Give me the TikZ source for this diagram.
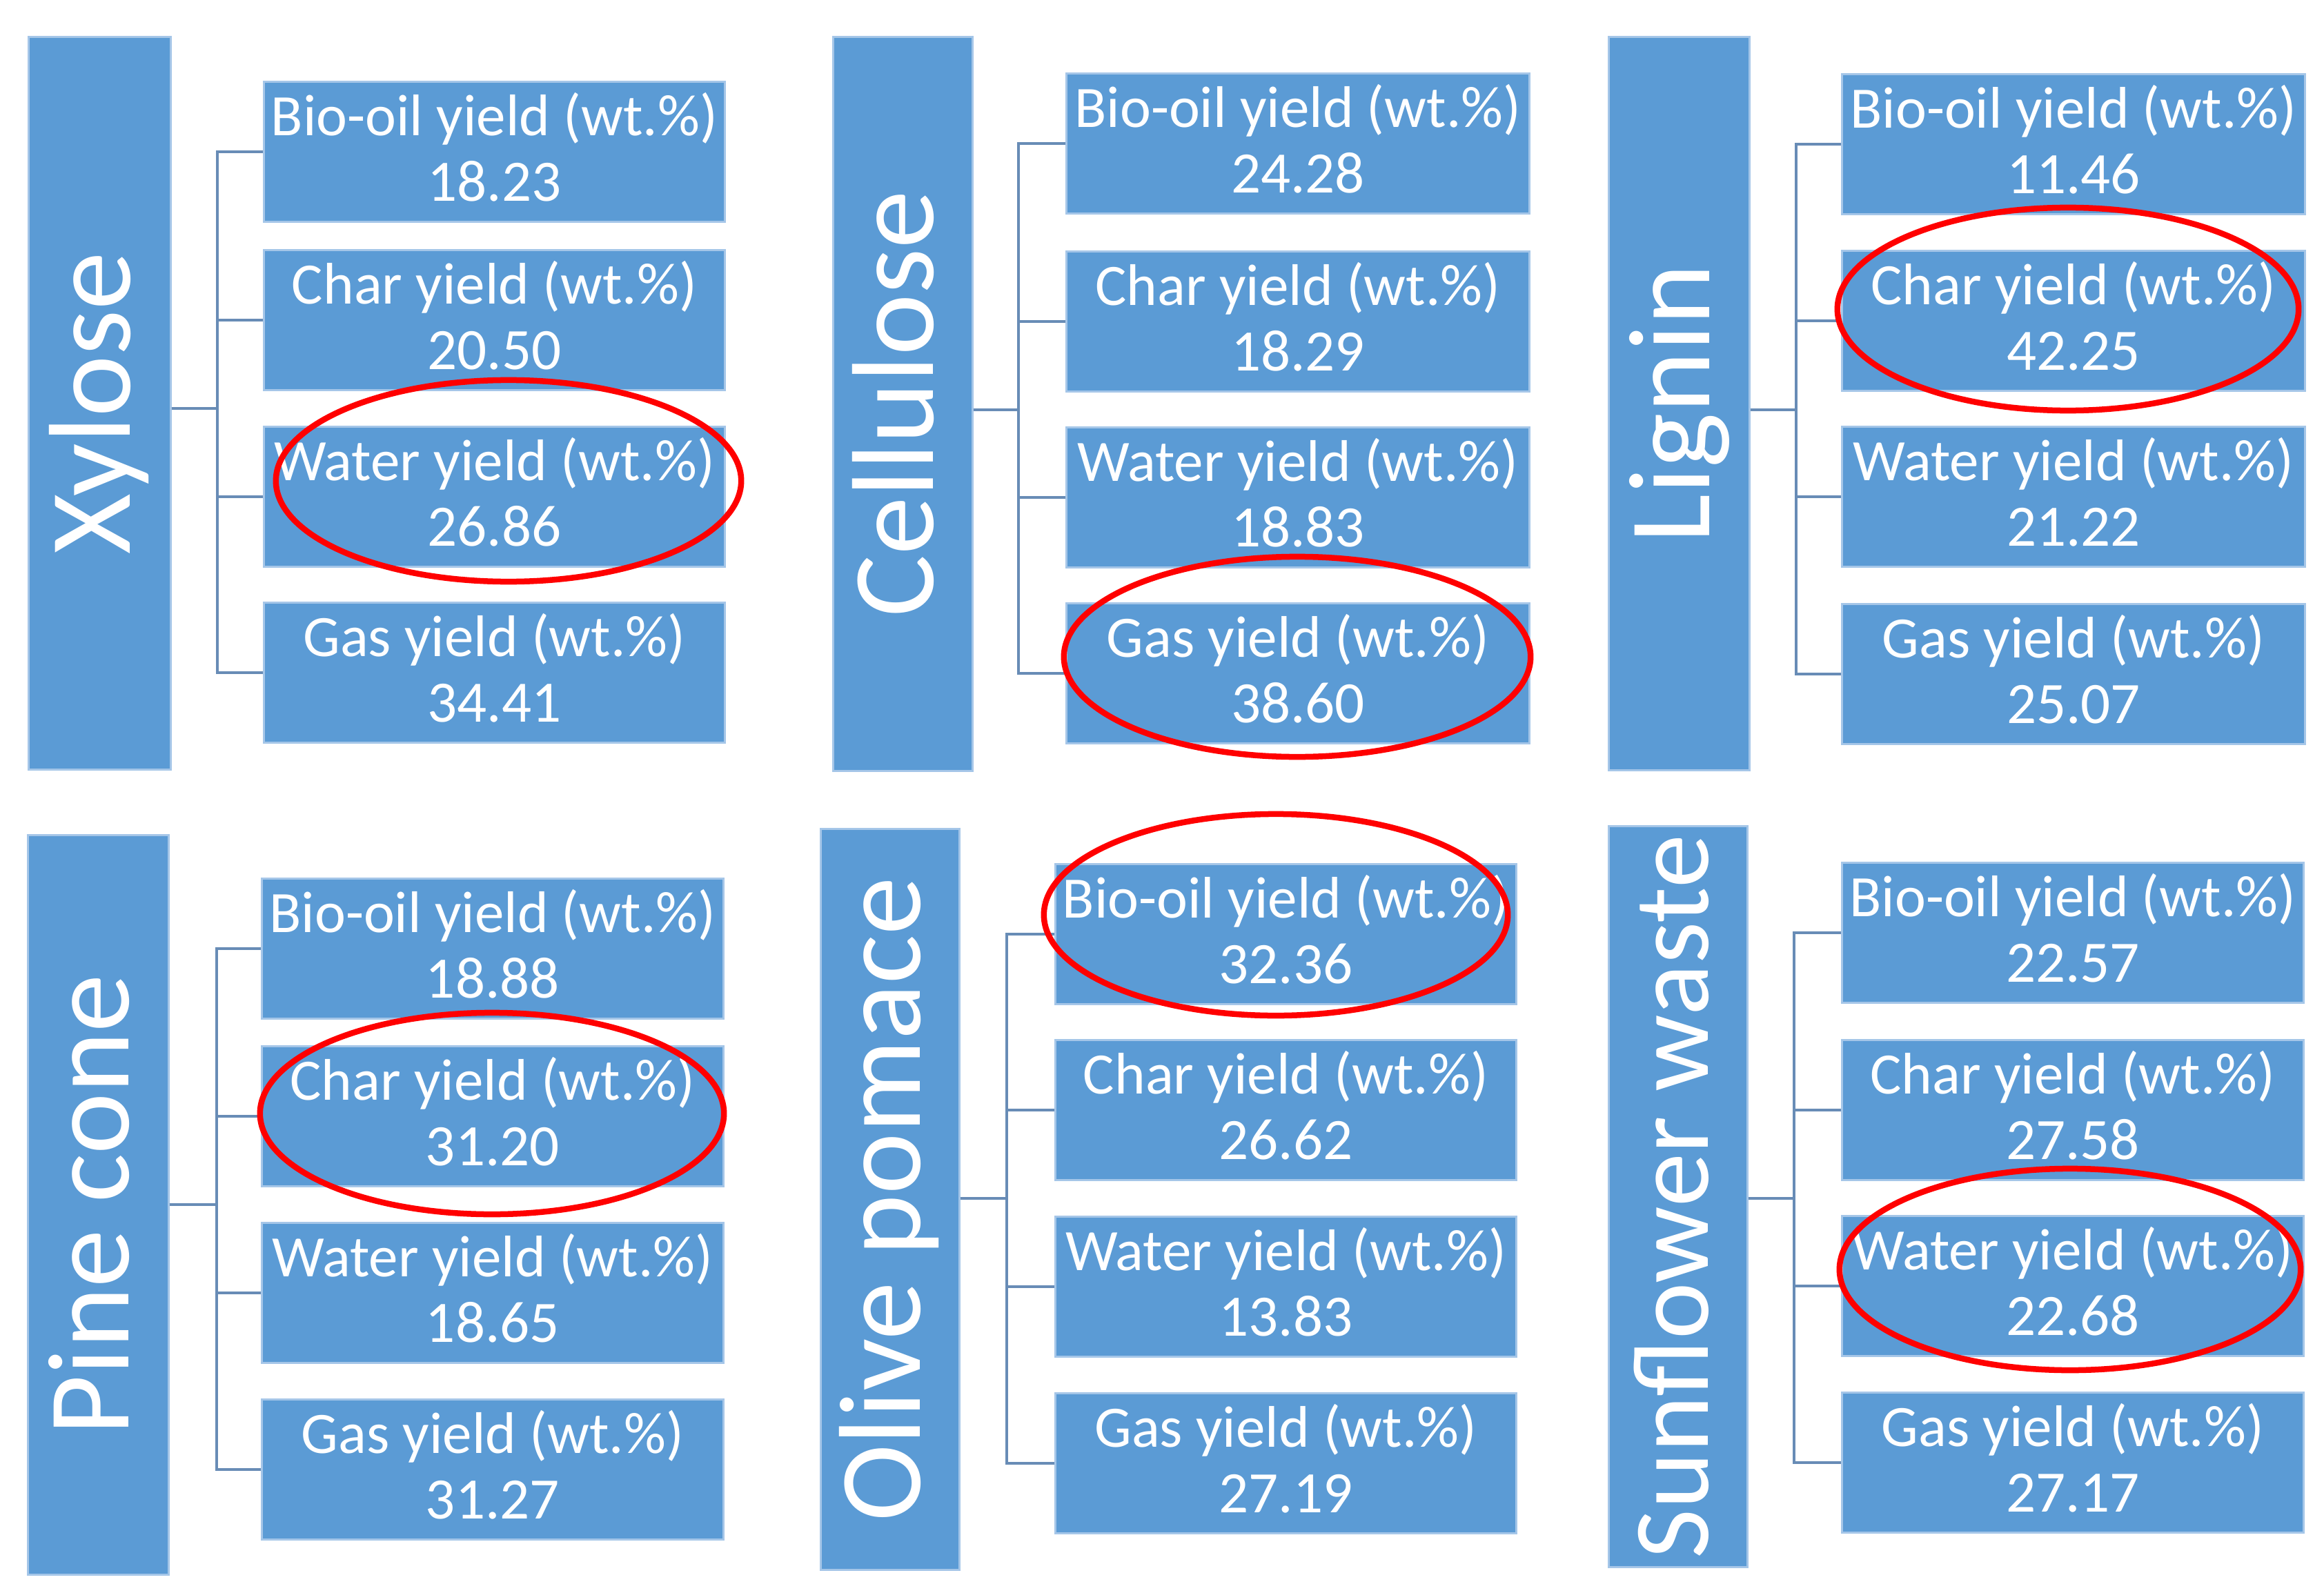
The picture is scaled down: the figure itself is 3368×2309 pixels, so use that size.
\documentclass[tikz,border=0pt]{standalone}
\usepackage{fontspec}
\setmainfont{Carlito}
\definecolor{boxblue}{RGB}{91,155,213}
\definecolor{edgec}{RGB}{165,198,232}
\definecolor{connc}{RGB}{104,140,182}
\definecolor{ringred}{RGB}{255,0,0}
\tikzset{
  ybox/.style={draw=edgec, line width=0.03cm, fill=boxblue, inner sep=0pt,
    minimum height=2.01cm, text=white, align=center,
    font=\fontsize{24.2}{26.8}\selectfont},
  ybar/.style={draw=edgec, line width=0.03cm, fill=boxblue, inner sep=0pt,
    rotate=90, text=white, text height=0.87cm, text depth=0cm,
    font=\fontsize{48}{52}\selectfont},
  conn/.style={draw=connc, line width=0.045cm},
  ring/.style={draw=ringred, line width=0.085cm}
}
\newcommand\yt[2]{\rule{0pt}{0.78cm}#1\\#2\rule[-0.30cm]{0pt}{0.30cm}}
\begin{document}
\begin{tikzpicture}[x=0.01cm,y=-0.01cm]
\useasboundingbox (0,0) rectangle (3368,2309);
% ---------- Xylose
\node[ybar, minimum width=10.61cm, minimum height=2.05cm] (xbar) at (144.5,584.5) {Xylose};
\node[ybox, minimum width=6.67cm] (x1) at (716.5,220) {\yt{Bio-oil yield (wt.\%)}{18.23}};
\node[ybox, minimum width=6.67cm] (x2) at (716.5,464) {\yt{Char yield (wt.\%)}{20.50}};
\node[ybox, minimum width=6.67cm] (x3) at (716.5,720) {\yt{Water yield (wt.\%)}{26.86}};
\node[ybox, minimum width=6.67cm] (x4) at (716.5,975) {\yt{Gas yield (wt.\%)}{34.41}};
\coordinate (xs) at (315,592);
\draw[conn] (xs -| xbar.south) -- (xs);
\foreach \b in {x1,x2,x3,x4} \draw[conn] (xs) |- (\b.west);
% ---------- Cellulose
\node[ybar, minimum width=10.63cm, minimum height=2.01cm] (cbar) at (1308.5,585.5) {Cellulose};
\node[ybox, minimum width=6.70cm] (c1) at (1881,208) {\yt{Bio-oil yield (wt.\%)}{24.28}};
\node[ybox, minimum width=6.70cm] (c2) at (1881,466) {\yt{Char yield (wt.\%)}{18.29}};
\node[ybox, minimum width=6.70cm] (c3) at (1881,721) {\yt{Water yield (wt.\%)}{18.83}};
\node[ybox, minimum width=6.70cm] (c4) at (1881,976) {\yt{Gas yield (wt.\%)}{38.60}};
\coordinate (cs) at (1476,594);
\draw[conn] (cs -| cbar.south) -- (cs);
\foreach \b in {c1,c2,c3,c4} \draw[conn] (cs) |- (\b.west);
% ---------- Lignin
\node[ybar, minimum width=10.62cm, minimum height=2.03cm] (lbar) at (2433.5,585) {Lignin};
\node[ybox, minimum width=6.70cm] (l1) at (3005,209) {\yt{Bio-oil yield (wt.\%)}{11.46}};
\node[ybox, minimum width=6.70cm] (l2) at (3005,465) {\yt{Char yield (wt.\%)}{42.25}};
\node[ybox, minimum width=6.70cm] (l3) at (3005,720) {\yt{Water yield (wt.\%)}{21.22}};
\node[ybox, minimum width=6.70cm] (l4) at (3005,977) {\yt{Gas yield (wt.\%)}{25.07}};
\coordinate (ls) at (2603,594);
\draw[conn] (ls -| lbar.south) -- (ls);
\foreach \b in {l1,l2,l3,l4} \draw[conn] (ls) |- (\b.west);
% ---------- Pine cone
\node[ybar, minimum width=10.71cm, minimum height=2.03cm] (pbar) at (142.5,1746.5) {Pine cone};
\node[ybox, minimum width=6.68cm] (p1) at (714,1375) {\yt{Bio-oil yield (wt.\%)}{18.88}};
\node[ybox, minimum width=6.68cm] (p2) at (714,1618) {\yt{Char yield (wt.\%)}{31.20}};
\node[ybox, minimum width=6.68cm] (p3) at (714,1874) {\yt{Water yield (wt.\%)}{18.65}};
\node[ybox, minimum width=6.68cm] (p4) at (714,2130) {\yt{Gas yield (wt.\%)}{31.27}};
\coordinate (ps) at (314,1746);
\draw[conn] (ps -| pbar.south) -- (ps);
\foreach \b in {p1,p2,p3,p4} \draw[conn] (ps) |- (\b.west);
% ---------- Olive pomace
\node[ybar, minimum width=10.73cm, minimum height=2.00cm] (obar) at (1290,1738.5) {Olive pomace};
\node[ybox, minimum width=6.67cm] (o1) at (1863.5,1354) {\yt{Bio-oil yield (wt.\%)}{32.36}};
\node[ybox, minimum width=6.67cm] (o2) at (1863.5,1609) {\yt{Char yield (wt.\%)}{26.62}};
\node[ybox, minimum width=6.67cm] (o3) at (1863.5,1865) {\yt{Water yield (wt.\%)}{13.83}};
\node[ybox, minimum width=6.67cm] (o4) at (1863.5,2121) {\yt{Gas yield (wt.\%)}{27.19}};
\coordinate (os) at (1459,1737);
\draw[conn] (os -| obar.south) -- (os);
\foreach \b in {o1,o2,o3,o4} \draw[conn] (os) |- (\b.west);
% ---------- Sunflower waste
\node[ybar, minimum width=10.73cm, minimum height=2.00cm, font=\fontsize{44.4}{48}\selectfont] (sbar) at (2432,1734.5) {Sunflower waste};
\node[ybox, minimum width=6.68cm] (s1) at (3004,1352) {\yt{Bio-oil yield (wt.\%)}{22.57}};
\node[ybox, minimum width=6.68cm] (s2) at (3004,1609) {\yt{Char yield (wt.\%)}{27.58}};
\node[ybox, minimum width=6.68cm] (s3) at (3004,1864) {\yt{Water yield (wt.\%)}{22.68}};
\node[ybox, minimum width=6.68cm] (s4) at (3004,2120) {\yt{Gas yield (wt.\%)}{27.17}};
\coordinate (ss) at (2600,1737);
\draw[conn] (ss -| sbar.south) -- (ss);
\foreach \b in {s1,s2,s3,s4} \draw[conn] (ss) |- (\b.west);
% ---------- highlight rings
\draw[ring] (737,697) ellipse [x radius=3.37cm, y radius=1.46cm];
\draw[ring] (1880,952) ellipse [x radius=3.38cm, y radius=1.45cm];
\draw[ring] (2997,448) ellipse [x radius=3.34cm, y radius=1.47cm];
\draw[ring] (713,1614) ellipse [x radius=3.36cm, y radius=1.46cm];
\draw[ring] (1849,1326) ellipse [x radius=3.36cm, y radius=1.46cm];
\draw[ring] (3000,1840) ellipse [x radius=3.34cm, y radius=1.46cm];
\end{tikzpicture}
\end{document}
